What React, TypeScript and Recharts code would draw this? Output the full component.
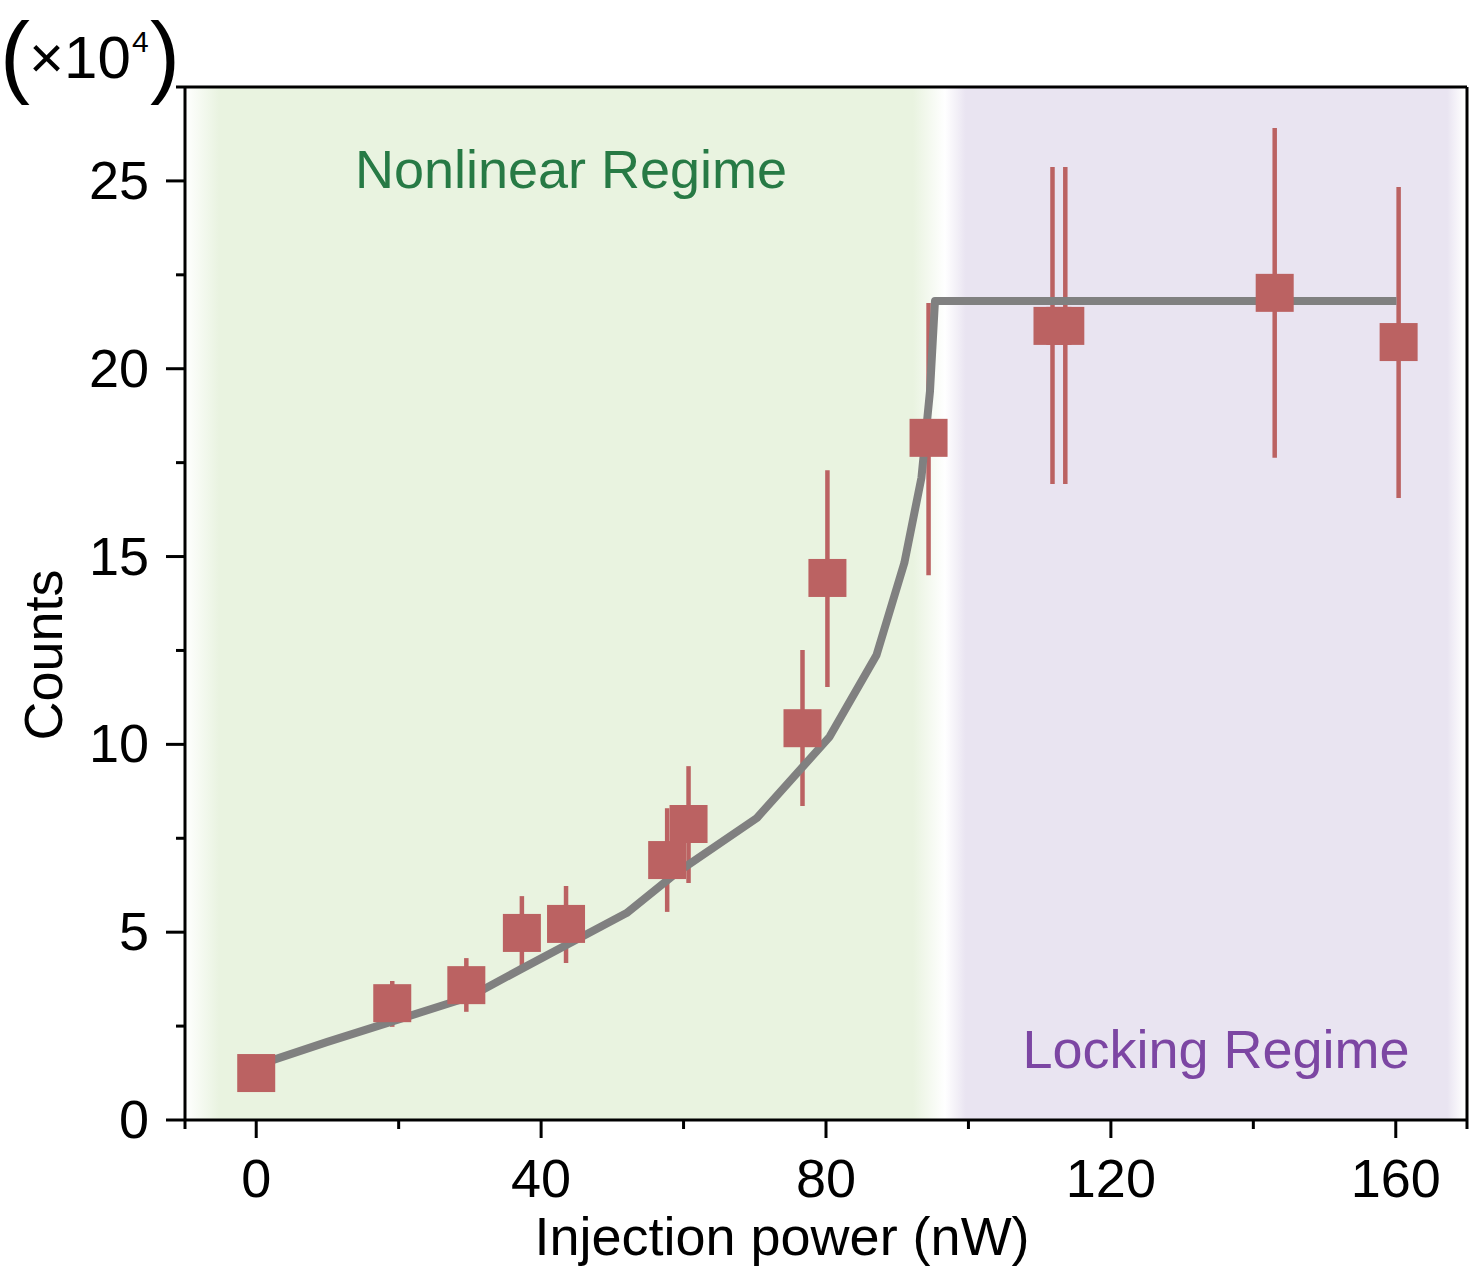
import { ErrorBar, ReferenceArea, ReferenceLine, Scatter, ScatterChart, XAxis, YAxis } from "recharts"

// measured points (x in nW, counts in units of 1e4)
const powerNW = [0, 19.1, 29.5, 37.3, 43.5, 57.7, 60.7, 76.7, 80.2, 94.4, 111.8, 113.6, 143.0, 160.4]
const counts = [1.25, 3.11, 3.59, 4.98, 5.22, 6.92, 7.88, 10.43, 14.43, 18.16, 21.14, 21.14, 22.02, 20.71]
const countsLow = [1.0, 2.48, 2.88, 3.97, 4.18, 5.54, 6.31, 8.36, 11.53, 14.5, 16.93, 16.93, 17.63, 16.56]
const countsHigh = [1.5, 3.7, 4.31, 5.96, 6.23, 8.3, 9.42, 12.51, 17.3, 21.75, 25.37, 25.37, 26.41, 24.84]

// fitted curve
const fitX = [2.4, 10, 20, 30, 37.5, 48.3, 52, 59, 70.3, 80.5, 87.1, 91, 93.4, 94.6, 95.3, 160.1]
const fitY = [1.6, 2.08, 2.68, 3.28, 4.05, 5.14, 5.51, 6.58, 8.04, 10.2, 12.38, 14.83, 17.1, 19.4, 21.8, 21.8]

const xMajor = [0, 40, 80, 120, 160]
const xMinor = [-10, 20, 60, 100, 140, 170]
const yMajor = [0, 5, 10, 15, 20, 25]
const yMinor = [2.5, 7.5, 12.5, 17.5, 22.5, 27.5]

const nonlinearEnd = 96.7

const points = powerNW.map((x, i) => ({
	x,
	y: counts[i],
	err: [counts[i] - countsLow[i], countsHigh[i] - counts[i]],
}))
const fit = fitX.map((x, i) => ({ x, y: fitY[i] }))

const FONT = "'Liberation Sans', Arial, Helvetica, sans-serif"
const RED = "#bb6262"

const wrapStyle = { position: "absolute", left: 0, top: 0, width: 1472, height: 1273, background: "#fff", fontFamily: FONT } as const
const overlayStyle = { position: "absolute", left: 0, top: 0, pointerEvents: "none" } as const
const chartMargin = { top: 87, right: 5, left: 0, bottom: 0 }
const axisLineStyle = { stroke: "#000", strokeWidth: 3 }
const fitLineStyle = { stroke: "#808080", strokeWidth: 8, strokeLinejoin: "round" }

function XTick(props: any) {
	const { x, y, payload } = props
	const major = xMajor.includes(payload.value)
	return (
		<g>
			<line x1={x} x2={x} y1={y} y2={y + (major ? 18 : 9)} stroke="#000" strokeWidth={3} />
			{major && (
				<text x={x} y={y + 77} textAnchor="middle" fontSize={54} fill="#000" fontFamily={FONT}>
					{payload.value}
				</text>
			)}
		</g>
	)
}

function YTick(props: any) {
	const { x, y, payload } = props
	const major = yMajor.includes(payload.value)
	return (
		<g>
			<line x1={x} x2={x - (major ? 19 : 9)} y1={y} y2={y} stroke="#000" strokeWidth={3} />
			{major && (
				<text x={x - 36} y={y + 18} textAnchor="end" fontSize={54} fill="#000" fontFamily={FONT}>
					{payload.value}
				</text>
			)}
		</g>
	)
}

const square = (p: any) => <rect x={p.cx - 19} y={p.cy - 19} width={38} height={38} fill={RED} />

export default function App() {
	return (
		<div style={wrapStyle}>
			<ScatterChart width={1472} height={1273} margin={chartMargin}>
				<defs>
					<linearGradient id="gGreen" x1="0" y1="0" x2="1" y2="0">
						<stop offset="0" stopColor="#ffffff" />
						<stop offset="0.045" stopColor="#e9f3e0" />
						<stop offset="0.958" stopColor="#e9f3e0" />
						<stop offset="1" stopColor="#ffffff" />
					</linearGradient>
					<linearGradient id="gPurple" x1="0" y1="0" x2="1" y2="0">
						<stop offset="0" stopColor="#ffffff" />
						<stop offset="0.04" stopColor="#e9e4f1" />
						<stop offset="0.962" stopColor="#e9e4f1" />
						<stop offset="0.995" stopColor="#ffffff" />
					</linearGradient>
				</defs>
				<XAxis
					type="number"
					dataKey="x"
					domain={[-10, 170]}
					ticks={[...xMinor, ...xMajor].sort((a, b) => a - b)}
					interval={0}
					height={153}
					tickSize={0}
					tickMargin={0}
					tick={<XTick />}
					axisLine={axisLineStyle}
				/>
				<YAxis
					type="number"
					dataKey="y"
					domain={[0, 27.5]}
					ticks={[...yMajor, ...yMinor].sort((a, b) => a - b)}
					interval={0}
					width={185}
					tickSize={0}
					tickMargin={0}
					tick={<YTick />}
					axisLine={axisLineStyle}
				/>
				<ReferenceArea x1={-10} x2={nonlinearEnd} y1={0} y2={27.5} fill="url(#gGreen)" fillOpacity={1} stroke="none" />
				<ReferenceArea x1={nonlinearEnd} x2={170} y1={0} y2={27.5} fill="url(#gPurple)" fillOpacity={1} stroke="none" />
				<ReferenceLine y={27.5} stroke="#000" strokeWidth={3} />
				<ReferenceLine x={170} stroke="#000" strokeWidth={3} />
				<Scatter data={fit} line={fitLineStyle} shape={() => <g />} isAnimationActive={false} />
				<Scatter data={points} shape={square} fill={RED} isAnimationActive={false}>
					<ErrorBar dataKey="err" direction="y" width={0} stroke={RED} strokeWidth={4.5} isAnimationActive={false} />
				</Scatter>
			</ScatterChart>
			<svg width={1472} height={1273} style={overlayStyle}>
				<g fontFamily={FONT} fill="#000">
					{/* (×10^4) unit marker */}
					<text>
						<tspan x={0} y={86} fontSize={90}>(</tspan>
						<tspan x={29} y={78} fontSize={60}>×10</tspan>
						<tspan x={132} y={52} fontSize={30}>4</tspan>
						<tspan x={150} y={86} fontSize={90}>)</tspan>
					</text>
					<text transform="translate(62,655) rotate(-90)" textAnchor="middle" fontSize={54}>Counts</text>
					<text x={782} y={1255} textAnchor="middle" fontSize={54}>Injection power (nW)</text>
				</g>
				<text x={571} y={188} textAnchor="middle" fontSize={54} fill="#277a45" fontFamily={FONT}>Nonlinear Regime</text>
				<text x={1216} y={1068} textAnchor="middle" fontSize={54} fill="#7c46a3" fontFamily={FONT}>Locking Regime</text>
			</svg>
		</div>
	)
}
